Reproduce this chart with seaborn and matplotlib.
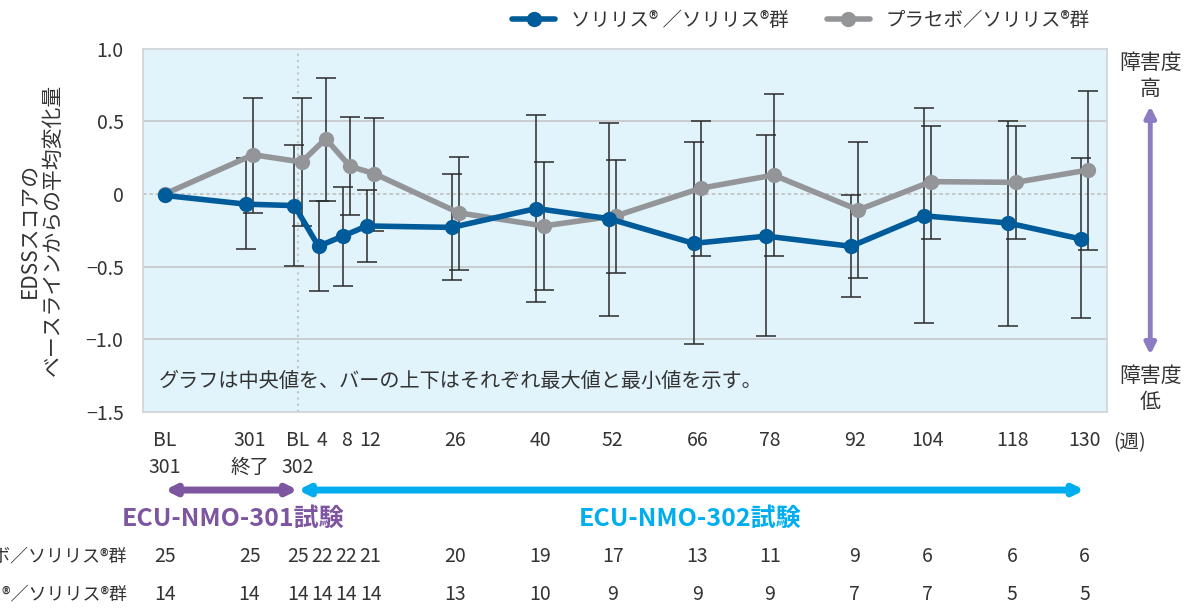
import numpy as np
import pandas as pd
import matplotlib.pyplot as plt
import seaborn as sns

# 時点（x軸上の位置：302試験BL=0週、301試験は圧縮表示）
x_pos = [-22, -8, 0, 4, 8, 12, 26, 40, 52, 66, 78, 92, 104, 118, 130]
x_labels = ['BL\n301', '301\n終了', 'BL\n302', '4', '8', '12', '26', '40', '52',
            '66', '78', '92', '104', '118', '130']

# ソリリス/ソリリス群（中央値・最大値・最小値）
ecu_med = [-0.01, -0.07, -0.08, -0.36, -0.29, -0.22, -0.23, -0.10, -0.17,
           -0.34, -0.29, -0.36, -0.15, -0.20, -0.31]
ecu_max = [np.nan, 0.245, 0.34, -0.05, 0.05, 0.025, 0.135, 0.545, 0.49,
           0.355, 0.405, -0.01, 0.59, 0.50, 0.245]
ecu_min = [np.nan, -0.38, -0.495, -0.67, -0.63, -0.47, -0.59, -0.745, -0.84,
           -1.03, -0.975, -0.71, -0.89, -0.91, -0.855]

# プラセボ/ソリリス群
pbo_med = [0.0, 0.27, 0.22, 0.38, 0.19, 0.14, -0.13, -0.22, -0.15,
           0.04, 0.13, -0.11, 0.085, 0.08, 0.165]
pbo_max = [np.nan, 0.66, 0.66, 0.80, 0.53, 0.525, 0.255, 0.22, 0.236,
           0.505, 0.69, 0.355, 0.47, 0.47, 0.71]
pbo_min = [np.nan, -0.13, -0.22, -0.05, -0.145, -0.255, -0.52, -0.66, -0.545,
           -0.43, -0.425, -0.58, -0.31, -0.31, -0.385]

# 例数
n_pbo = [25, 25, 25, 22, 22, 21, 20, 19, 17, 13, 11, 9, 6, 6, 6]
n_ecu = [14, 14, 14, 14, 14, 14, 13, 10, 9, 9, 9, 7, 7, 5, 5]

label_ecu = 'ソリリス® ／ソリリス®群'
label_pbo = 'プラセボ／ソリリス®群'

BLUE = '#005b9a'
GRAY = '#939598'
PURPLE = '#7e55a1'
CYAN = '#00aeef'

sns.set_style('white')
plt.rcParams['font.family'] = ['Noto Sans CJK JP', 'DejaVu Sans']

fig = plt.figure(figsize=(11.92, 6.08), dpi=100)
ax = fig.add_axes([0.12, 0.3224, 0.8087, 0.5976])
ax.set_facecolor('#e1f3fb')

off = 0.6
x_ecu = np.array(x_pos) - off
x_pbo = np.array(x_pos) + off
x_ecu[0] = x_pos[0]
x_pbo[0] = x_pos[0]

df = pd.DataFrame({
    'x': np.concatenate([x_ecu, x_pbo]),
    'y': ecu_med + pbo_med,
    'grp': [label_ecu] * len(x_pos) + [label_pbo] * len(x_pos),
})

# 最大値・最小値のエラーバー
for xs, med, mx, mn in [(x_ecu, ecu_med, ecu_max, ecu_min),
                        (x_pbo, pbo_med, pbo_max, pbo_min)]:
    med = np.array(med); mx = np.array(mx); mn = np.array(mn)
    ok = ~np.isnan(mx)
    ax.errorbar(xs[ok], med[ok], yerr=[med[ok] - mn[ok], mx[ok] - med[ok]],
                fmt='none', ecolor='#2b2b2b', elinewidth=1.1, capsize=7,
                capthick=1.1, zorder=2)

sns.lineplot(data=df[df.grp == label_pbo], x='x', y='y', color=GRAY, lw=4,
             marker='o', markersize=11, markeredgewidth=0, ax=ax, zorder=3,
             label=label_pbo)
sns.lineplot(data=df[df.grp == label_ecu], x='x', y='y', color=BLUE, lw=4,
             marker='o', markersize=11, markeredgewidth=0, ax=ax, zorder=4,
             label=label_ecu)

ax.set_xlim(-25.6, 133.7)
ax.set_ylim(-1.5, 1.0)
ax.set_yticks([1.0, 0.5, 0, -0.5, -1.0, -1.5])
ax.set_yticklabels(['1.0', '0.5', '0', '\u22120.5', '\u22121.0', '\u22121.5'])
ax.set_xticks(x_pos)
ax.set_xticklabels(x_labels, linespacing=1.35)
ax.tick_params(axis='both', length=0, labelsize=14, colors='#333333')
ax.tick_params(axis='x', pad=13)
ax.tick_params(axis='y', pad=14)

for v in [0.5, -0.5, -1.0]:
    ax.axhline(v, color='#c8cbcd', lw=1.3, zorder=1)
ax.axhline(0, color='#c4c4c4', lw=1.3, ls=(0, (2, 1.5)), zorder=1)
ax.axvline(0, color='#c4c4c4', lw=1.5, ls=(0, (1, 2)), zorder=1)
for s in ax.spines.values():
    s.set_color('#cfd3d5')
    s.set_linewidth(1.2)

ax.set_xlabel('')
ax.set_ylabel('EDSSスコアの\nベースラインからの平均変化量', fontsize=15,
              color='#333333', labelpad=16, linespacing=1.1)

ax.text(-23, -1.29, 'グラフは中央値を、バーの上下はそれぞれ最大値と最小値を示す。',
        fontsize=14.5, color='#333333', va='center')

ax.text(137.5, -1.64, '(週)', fontsize=14, color='#333333', va='top',
        ha='center', clip_on=False)

h, l = ax.get_legend_handles_labels()
ax.legend(h[::-1], l[::-1], loc='lower right', bbox_to_anchor=(1.0, 1.0), ncol=2,
          frameon=False, fontsize=14, handlelength=2.2,
          columnspacing=2.0, labelcolor='#333333')

# 右側の障害度矢印
fig.text(0.965, 0.875, '障害度\n高', ha='center', va='center', fontsize=15,
         color='#333333', linespacing=1.2)
fig.text(0.965, 0.36, '障害度\n低', ha='center', va='center', fontsize=15,
         color='#333333', linespacing=1.2)
fig.add_artist(plt.matplotlib.patches.FancyArrowPatch(
    (0.965, 0.83), (0.965, 0.412), transform=fig.transFigure,
    arrowstyle='<|-|>', mutation_scale=16, lw=3.5, color='#8e7cc3'))

# 試験期間の矢印
tr = ('data', 'figure fraction')
ax.annotate('', xy=(x_pos[0], 0.194), xytext=(x_pos[2], 0.194),
            xycoords=tr, textcoords=tr,
            arrowprops=dict(arrowstyle='<|-|>', color=PURPLE, lw=5,
                            mutation_scale=14, shrinkA=0, shrinkB=0))
ax.annotate('', xy=(x_pos[-1], 0.194), xytext=(x_pos[2], 0.194),
            xycoords=tr, textcoords=tr,
            arrowprops=dict(arrowstyle='<|-|>', color=CYAN, lw=5,
                            mutation_scale=14, shrinkA=0, shrinkB=0))
ax.annotate('ECU-NMO-301試験', xy=(-10.7, 0.147), xycoords=tr, ha='center',
            va='center', fontsize=18, color=PURPLE, fontweight='bold')
ax.annotate('ECU-NMO-302試験', xy=(64.8, 0.147), xycoords=tr, ha='center',
            va='center', fontsize=18, color=CYAN, fontweight='bold')

# 例数の表（左端は元図と同様に切れている）
for yf, lab, ns in [(0.0855, label_pbo, n_pbo), (0.023, 'ソリリス®／ソリリス®群', n_ecu)]:
    fig.text(0.107, yf, lab, ha='right', va='center', fontsize=13, color='#333333')
    for xv, n in zip(x_pos, ns):
        ax.annotate(str(n), xy=(xv, yf), xycoords=tr, ha='center', va='center',
                    fontsize=14, color='#333333')

fig.savefig('out.png', dpi=100)
